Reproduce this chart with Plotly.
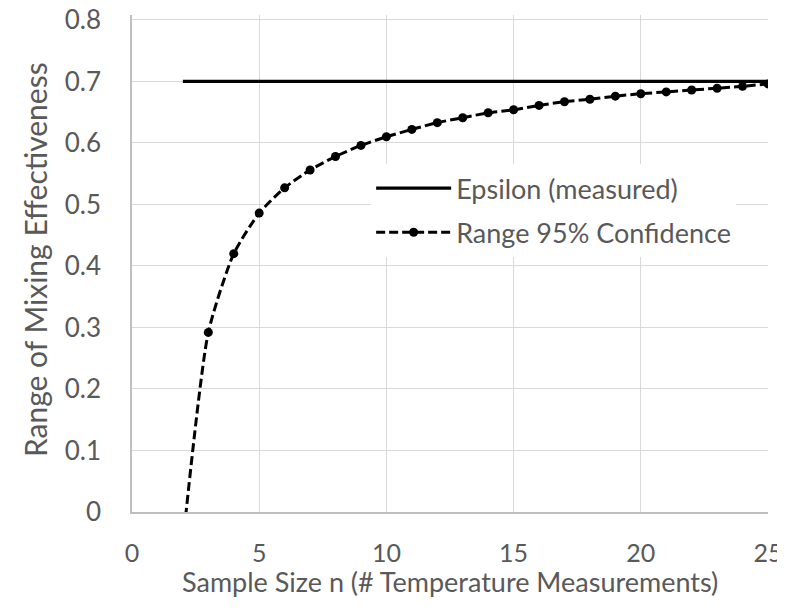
import plotly.graph_objects as go

n_eps = [2, 25]
eps_vals = [0.70, 0.70]

n_vals = list(range(2, 26))
range_vals = [-0.05, 0.292, 0.420, 0.486, 0.527, 0.556, 0.578, 0.596, 0.610, 0.622,
              0.633, 0.641, 0.649, 0.654, 0.661, 0.667, 0.671, 0.676, 0.680, 0.683,
              0.686, 0.689, 0.692, 0.696]

x_ticks = [0, 5, 10, 15, 20, 25]
y_ticks = [0, 0.1, 0.2, 0.3, 0.4, 0.5, 0.6, 0.7, 0.8]
y_labels = ["0", "0.1", "0.2", "0.3", "0.4", "0.5", "0.6", "0.7", "0.8"]

x_title = "Sample Size n (# Temperature Measurements)"
y_title = "Range of Mixing Effectiveness"

FONT = "Lato, Open Sans, sans-serif"
TXT = "#595959"

fig = go.Figure()
fig.add_trace(go.Scatter(x=n_eps, y=eps_vals, mode="lines", name="Epsilon (measured)",
                         legendgroup="a",
                         line=dict(color="black", width=3.2)))
fig.add_trace(go.Scatter(x=n_vals, y=range_vals, mode="lines+markers",
                         name="Range 95% Confidence", legendgroup="b",
                         line=dict(color="black", width=3, dash="9px,4px", shape="spline", smoothing=0.6),
                         marker=dict(color="black", size=9, symbol="circle")))

fig.update_layout(
    width=769, height=595,
    margin=dict(l=124, r=9, t=7, b=91),
    paper_bgcolor="white", plot_bgcolor="white",
    font=dict(family=FONT, color=TXT, size=25),
    showlegend=True,
    legend=dict(x=0.376, y=0.700, xanchor="left", yanchor="top",
                bgcolor="white", font=dict(size=27, color=TXT),
                itemwidth=75, tracegroupgap=6),
    xaxis=dict(range=[0, 25.001], tickvals=x_ticks, showgrid=True, gridcolor="#d9d9d9",
               gridwidth=1.3, showline=True, linecolor="#bfbfbf", linewidth=1.5,
               zeroline=False, ticks="", ticklabelstandoff=18, automargin=False,
               ticklabeloverflow="allow",
               tickfont=dict(size=25, color=TXT)),
    yaxis=dict(range=[0, 0.808], tickvals=y_ticks, ticktext=y_labels, showgrid=True,
               gridcolor="#d9d9d9", gridwidth=1.3, showline=True, linecolor="#bfbfbf",
               linewidth=1.5, zeroline=False, ticks="", ticklabelstandoff=24, automargin=False,
               ticklabeloverflow="allow",
               tickfont=dict(size=26, color=TXT)),
    annotations=[
        dict(text=x_title, xref="paper", yref="paper", x=0.5, y=0, yshift=-69,
             xanchor="center", yanchor="middle", showarrow=False,
             font=dict(size=27, color=TXT)),
        dict(text=y_title, xref="paper", yref="paper", x=0, y=0.507, xshift=-97,
             xanchor="center", yanchor="middle", textangle=-90, showarrow=False,
             font=dict(size=30, color=TXT)),
    ],
)

fig.write_html(
    "out.html",
    post_script=(
        "document.querySelectorAll('.main-svg, .svg-container, .plot-container, .plotly-graph-div')"
        ".forEach(function(s){s.style.overflow='visible';});"
    ),
)
